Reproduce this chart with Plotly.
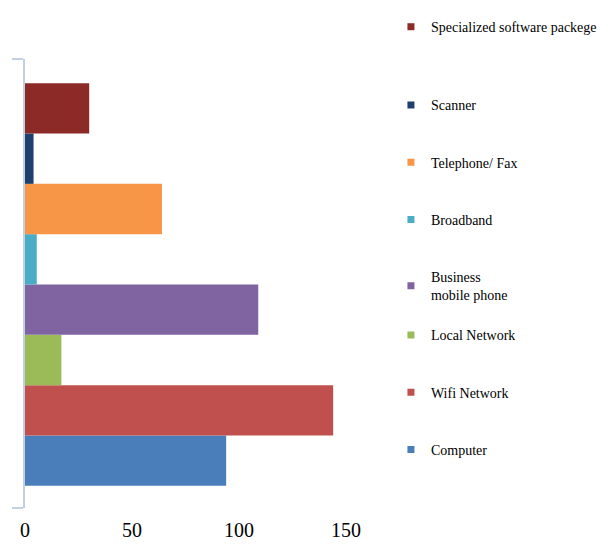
import plotly.graph_objects as go

# Data (bottom to top of the chart)
categories = ["Computer", "Wifi Network", "Local Network", "Business mobile phone",
              "Broadband", "Telephone/ Fax", "Scanner", "Specialized software packege"]
legend_names = ["Computer", "Wifi Network", "Local Network", "Business<br>mobile phone",
                "Broadband", "Telephone/ Fax", "Scanner", "Specialized software packege"]
values = [94, 144, 17, 109, 5.5, 64, 4, 30]
colors = ["#4A7EBB", "#C0504D", "#9BBB59", "#8064A2", "#4BACC6", "#F79646", "#1F3F6E", "#8C2A27"]
x_ticks = [0, 50, 100, 150]

# which legend box each entry goes into (layout only)
legend_box = ["legend3", "legend3", "legend3", "legend", "legend", "legend", "legend", "legend2"]

FONT = "Liberation Serif"
AXIS_COL = "#C3D0E2"

fig = go.Figure()
for cat, name, val, col in zip(categories, legend_names, values, colors):
    fig.add_trace(go.Bar(
        x=[val], y=[cat], orientation="h", width=1,
        marker=dict(color=col, line=dict(width=0)),
        showlegend=False, legendgroup=cat, name=name,
    ))
# legend entries, top to bottom
for cat, name, col, box in reversed(list(zip(categories, legend_names, colors, legend_box))):
    fig.add_trace(go.Scatter(
        x=[None], y=[None], mode="markers", name=name, legendgroup=cat,
        marker=dict(symbol="square", size=7, color=col),
        legend=box,
    ))

leg_common = dict(
    x=1.14, xanchor="left", traceorder="grouped", tracegroupgap=36,
    font=dict(family=FONT, size=14, color="black"),
    itemwidth=30, bgcolor="rgba(0,0,0,0)",
)

fig.update_layout(
    width=608, height=545,
    margin=dict(l=25, r=262, t=59, b=37, autoexpand=False),
    paper_bgcolor="white", plot_bgcolor="white",
    barmode="overlay",
    font=dict(family=FONT, color="black"),
    legend=dict(y=0.9323, yanchor="top", **leg_common),
    legend2=dict(y=1.071, yanchor="middle", **leg_common),
    legend3=dict(y=0.42, yanchor="top", **leg_common),
    xaxis=dict(
        range=[0, 150], tickmode="array", tickvals=x_ticks,
        showgrid=False, zeroline=False, showline=False, ticks="",
        tickfont=dict(family=FONT, size=20, color="black"),
        ticklabelstandoff=8,
    ),
    yaxis=dict(
        type="category", categoryorder="array", categoryarray=categories,
        range=[-0.94, 7.98],
        tickmode="array", tickvals=[-0.935, 7.975], ticktext=["", ""],
        ticks="outside", ticklen=11, tickcolor=AXIS_COL, tickwidth=1.5,
        showticklabels=False,
        showline=True, linecolor=AXIS_COL, linewidth=1.5,
        showgrid=False, zeroline=False,
    ),
)

fig.write_html("out.html")
